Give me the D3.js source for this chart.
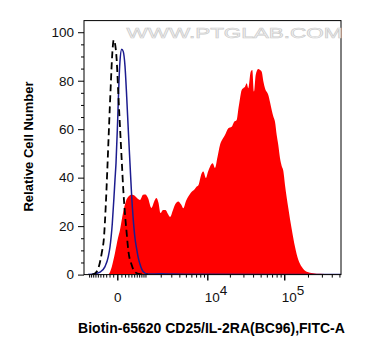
<!DOCTYPE html>
<html><head><meta charset="utf-8">
<script src="https://cdn.jsdelivr.net/npm/d3@7/dist/d3.min.js"></script>
<style>body{margin:0;background:#fff;}svg{display:block;font-family:"Liberation Sans",Arial,sans-serif;}</style>
</head><body>
<svg id="c" width="369" height="356"></svg>
<script>
// ---- data (fluorescence intensity vs relative count) ----
const sampleX = [-245,-186,-131,-55,16,64,142,227,304,403,493,610,738,877,1002,1137,1343,1504,1677,1824,1980,2189,2413,2655,2861,3193,3493,3856,4235,4582,5020,5422,6067,6540,7138,7564,8377,8814,9597,10219,10877,11828,12700,13716,14809,15742,17246,19060,21121,22635,24546,25906,27095,28505,29899,31453,33085,34694,37256,39066,41085,43205,46655,49060,51580,54390,56850,62650,65850,69230,72990,76270,80170,84020,88310,92820,97280,102240,112610,124390,136970,150810,166560,192730,233600,284000,380000,523300];
const sampleY = [0,1.1,3.6,8.9,15.1,18.4,25.4,30.4,32.2,32.9,32.7,31.6,30.8,32.9,33.1,31.6,27.5,30.0,31.6,29.6,25.4,26.7,26.7,25.0,23.8,26.7,29.2,30.2,29.0,27.4,30.4,32.2,34.2,34.9,36.3,37.0,41.8,42.5,39.8,42.4,44.5,45.9,44.0,48.5,53.5,55.5,57.6,60.4,61.0,63.0,63.8,68.7,72.7,76.2,76.9,77.5,78.9,76.9,83.7,84.4,75.5,82.4,84.8,84.4,83.7,79.5,76.9,74.1,71.2,67.9,65.0,63.1,57.6,53.5,48.1,44.8,42.8,37.0,27.5,18.8,11.5,6.1,3.2,1.2,0.6,0.3,0.15,0.1];

const isotypeX = [-1060,-720,-516,-339,-236,-186,-123,-79,-55,-30,9,40,64,108,150,198,248,297,352,410,467,531,598,664,738,891,1140,1980,3500,8000,523300];
const isotypeY = [0,0.4,1.0,3.3,7.4,11.5,21.2,32.2,39.1,46,64,80,88,93,92,86,73.4,59.7,45.9,32.2,22.6,15,10.5,6.9,4.3,1.2,0.2,0.3,0.2,0.1,0];

const unstainedX = [-857,-720,-582,-453,-372,-316,-266,-215,-167,-123,-87,-55,-14,23,64,108,150,198,248,297,410,531,738,1140];
const unstainedY = [0,0.5,2.6,8.8,15.6,28,43.2,60.9,77.5,91.3,96.8,95.4,88.5,74.8,61,47.3,35,25,17,10,4,1,0.2,0];

const yMajorTicks = [0,20,40,60,80,100];
const xMajorTicks = [0,1e4,1e5];
const xTickLabels = ["0","10|4","10|5"];
const xMinorTicks = [-1000,-900,-800,-700,-600,-500,-400,-300,-200,-100,100,200,300,400,500,600,700,800,900,1000,
  2000,3000,4000,5000,6000,7000,8000,9000,20000,30000,40000,50000,60000,70000,80000,90000,200000,300000,400000,500000];

const xTitle = "Biotin-65620 CD25/IL-2RA(BC96),FITC-A";
const yTitle = "Relative Cell Number";

// ---- layout ----
const L = 84, R = 341, T = 20.6, B = 274.6;
const svg = d3.select("#c");
const x = d3.scaleSymlog().constant(790).domain([-1288, 523300]).range([L, R]);
const y = d3.scaleLinear().domain([0, 104.8]).range([B, T]);

svg.append("clipPath").attr("id","clip").append("rect")
  .attr("x",L).attr("y",T).attr("width",R-L).attr("height",B-T);
const g = svg.append("g").attr("clip-path","url(#clip)");

const toPts = (xs, ys) => xs.map((v,i)=>[v, ys[i]]);

// red filled histogram
g.append("path")
  .datum(toPts(sampleX, sampleY))
  .attr("fill","#ff0000")
  .attr("d", d3.area().x(d=>x(d[0])).y0(y(0)).y1(d=>y(d[1])).curve(d3.curveMonotoneX));

// isotype (blue)
g.append("path")
  .datum(toPts(isotypeX, isotypeY))
  .attr("fill","none").attr("stroke","#1c1c8f").attr("stroke-width",1.5)
  .attr("d", d3.line().x(d=>x(d[0])).y(d=>y(d[1])).curve(d3.curveMonotoneX));

// unstained (black dashed)
g.append("path")
  .datum(toPts(unstainedX, unstainedY))
  .attr("fill","none").attr("stroke","#000").attr("stroke-width",1.8)
  .attr("stroke-dasharray","7,4")
  .attr("d", d3.line().x(d=>x(d[0])).y(d=>y(d[1])).curve(d3.curveMonotoneX));

// frame
svg.append("rect").attr("x",L).attr("y",T).attr("width",R-L).attr("height",B-T)
  .attr("fill","none").attr("stroke","#000").attr("stroke-width",1);

// y axis
const yMinor = d3.range(0,105,5).filter(v=>v%20!==0);
const yAx = svg.append("g").attr("transform",`translate(${L},0)`)
  .call(d3.axisLeft(y).tickValues(yMajorTicks).tickSize(6).tickPadding(4).tickFormat(d3.format("d")));
svg.append("g").attr("transform",`translate(${L},0)`)
  .call(d3.axisLeft(y).tickValues(yMinor).tickSize(3).tickFormat(""))
  .select(".domain").remove();
yAx.select(".domain").remove();
svg.selectAll("g.tick line").attr("stroke","#000");
yAx.selectAll("text").attr("font-size","13.5px").attr("fill","#111")
  .attr("font-family","'Liberation Sans',Arial,sans-serif");

// x axis
const xMin = svg.append("g").attr("transform",`translate(0,${B})`)
  .call(d3.axisBottom(x).tickValues(xMinorTicks).tickSize(3).tickFormat(""));
xMin.select(".domain").remove();
const xMaj = svg.append("g").attr("transform",`translate(0,${B})`)
  .call(d3.axisBottom(x).tickValues(xMajorTicks).tickSize(6).tickFormat(""));
xMaj.select(".domain").remove();
xMaj.selectAll("line").attr("stroke-width",1.4);

xMajorTicks.forEach((v,i)=>{
  const lab = xTickLabels[i].split("|");
  const t = svg.append("text").attr("y",302).attr("font-size","13.5px").attr("fill","#111");
  if (lab.length===1) {
    t.attr("x", x(v)+0.5).attr("text-anchor","middle").text(lab[0]);
  } else {
    t.attr("x", x(v)-2.5).attr("text-anchor","start");
    t.append("tspan").text(lab[0]);
    t.append("tspan").attr("dy",-7).text(lab[1]);
  }
});

// titles
svg.append("text").attr("x",211.5).attr("y",333).attr("text-anchor","middle")
  .attr("font-weight","bold").attr("font-size","14px").attr("fill","#000").text(xTitle);
svg.append("text").attr("transform","translate(33,146.5) rotate(-90)").attr("text-anchor","middle")
  .attr("font-weight","bold").attr("font-size","13px").attr("fill","#000").text(yTitle);

// watermark
svg.append("text").attr("x",126.5).attr("y",37.5)
  .attr("font-size","14px").attr("fill","#f6f6f6").attr("stroke","#cccccc").attr("stroke-width",0.6)
  .attr("textLength",216).attr("lengthAdjust","spacingAndGlyphs")
  .text("WWW.PTGLAB.COM");
</script>
</body></html>
